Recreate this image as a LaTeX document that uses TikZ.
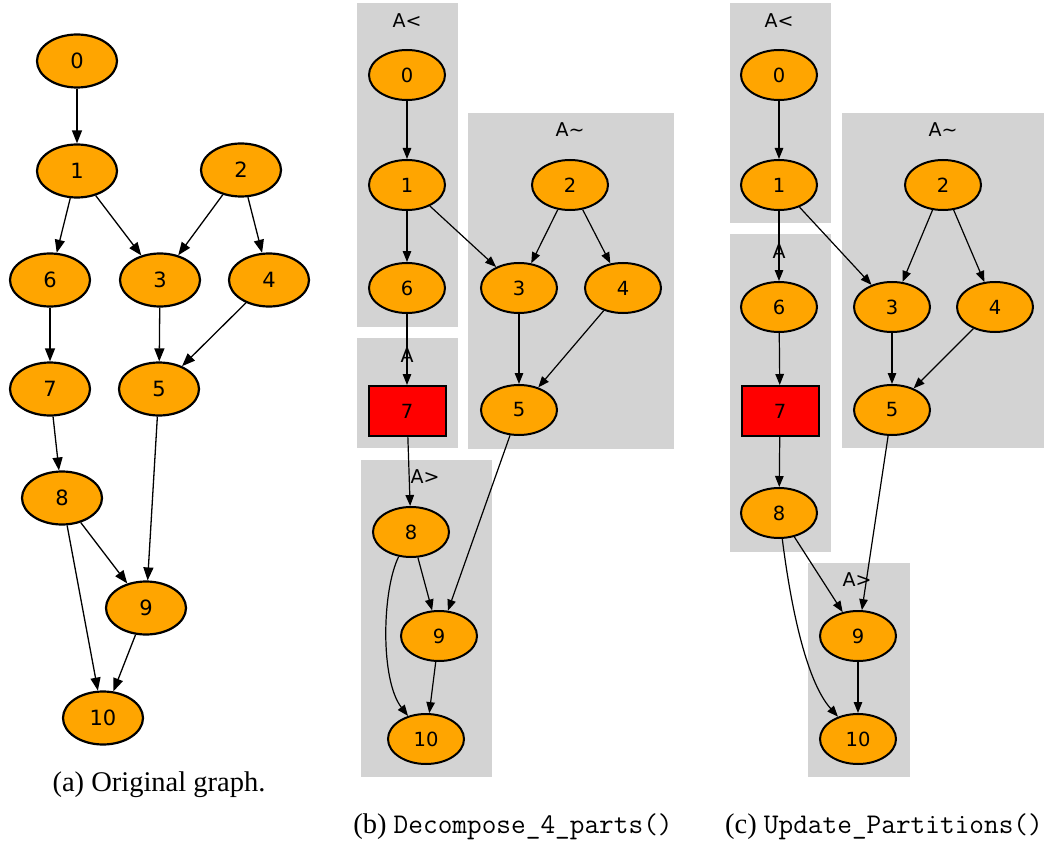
\documentclass[tikz,border=0pt]{standalone}
\usepackage{fontspec}
\setmainfont{Liberation Serif}
\newfontfamily\dv{DejaVu Sans}
\usetikzlibrary{shapes.geometric,arrows.meta}
\definecolor{gorange}{HTML}{FFA500}
\definecolor{cgray}{HTML}{D3D3D3}
\tikzset{
 nda/.style={ellipse, draw, line width=2.2pt, fill=gorange, minimum width=80pt, minimum height=53pt, inner sep=0pt, font=\dv\fontsize{21}{21}\selectfont},
 ndb/.style={ellipse, draw, line width=2pt, fill=gorange, minimum width=76pt, minimum height=50pt, inner sep=0pt, font=\dv\fontsize{19.5}{19.5}\selectfont},
 rbox/.style={rectangle, draw, line width=2pt, fill=red, minimum width=77pt, minimum height=50pt, inner sep=0pt, font=\dv\fontsize{19.5}{19.5}\selectfont},
 clab/.style={inner sep=0pt, font=\dv\fontsize{19}{19}\selectfont},
 capt/.style={inner sep=0pt, font=\fontsize{28.5}{30}\selectfont},
 ea/.style={-{Triangle[length=13pt,width=10pt]}, line width=1.3pt},
 eb/.style={-{Triangle[length=11pt,width=8.5pt]}, line width=1.2pt},
}
\begin{document}
\begin{tikzpicture}[x=1pt,y=-1pt]
\useasboundingbox (0,0) rectangle (1044,845);
% ---------- (a)
\node[nda] (a0) at (77,61) {0};
\node[nda] (a1) at (77,171) {1};
\node[nda] (a2) at (241,170) {2};
\node[nda] (a6) at (50,280) {6};
\node[nda] (a3) at (160,280) {3};
\node[nda] (a4) at (269,280) {4};
\node[nda] (a7) at (50,389) {7};
\node[nda] (a5) at (159,389) {5};
\node[nda] (a8) at (62,498) {8};
\node[nda] (a9) at (146,608) {9};
\node[nda] (a10) at (103,718) {10};
\draw[ea] (a0) -- (a1);
\draw[ea] (a1) -- (a6);
\draw[ea] (a1) -- (a3);
\draw[ea] (a2) -- (a3);
\draw[ea] (a2) -- (a4);
\draw[ea] (a3) -- (a5);
\draw[ea] (a4) -- (a5);
\draw[ea] (a6) -- (a7);
\draw[ea] (a7) -- (a8);
\draw[ea] (a5) -- (a9);
\draw[ea] (a8) -- (a9);
\draw[ea] (a8) -- (a10);
\draw[ea] (a9) -- (a10);
\node[capt] (capa) at (159,785) {(a) Original graph.};
% ---------- (b)
\fill[cgray] (357,3) rectangle (458,327);
\fill[cgray] (468,113) rectangle (674,449);
\fill[cgray] (357,338) rectangle (458,448);
\fill[cgray] (361,460) rectangle (492,777);
\node[clab] (bl1) at (407,21) {A<};
\node[clab] (bl2) at (570,130) {A\textasciitilde};
\node[clab] (bl3) at (407,356) {A};
\node[clab] (bl4) at (425,477) {A>};
\node[ndb] (b0) at (407,75) {0};
\node[ndb] (b1) at (407,185) {1};
\node[ndb] (b6) at (407,288) {6};
\node[ndb] (b2) at (570,185) {2};
\node[ndb] (b3) at (519,288) {3};
\node[ndb] (b4) at (623,288) {4};
\node[ndb] (b5) at (519,410) {5};
\node[rbox] (b7) at (407,411) {7};
\node[ndb] (b8) at (411,532) {8};
\node[ndb] (b9) at (439,636) {9};
\node[ndb] (b10) at (426,739) {10};
\draw[eb] (b0) -- (b1);
\draw[eb] (b1) -- (b6);
\draw[eb] (b1) -- (b3);
\draw[eb] (b2) -- (b3);
\draw[eb] (b2) -- (b4);
\draw[eb] (b3) -- (b5);
\draw[eb] (b4) -- (b5);
\draw[eb] (b6) -- (b7);
\draw[eb] (b7) -- (b8);
\draw[eb] (b5) -- (b9);
\draw[eb] (b8) -- (b9);
\draw[eb] (b8) .. controls (382,590) and (380,680) .. (b10);
\draw[eb] (b9) -- (b10);
\node[capt] (capb) at (513,827) {(b) \texttt{Decompose\_4\_parts()}};
% ---------- (c)
\fill[cgray] (730,3) rectangle (831,223);
\fill[cgray] (842,113) rectangle (1050,448);
\fill[cgray] (730,234) rectangle (831,552);
\fill[cgray] (808,563) rectangle (910,777);
\node[clab] (cl1) at (779,21) {A<};
\node[clab] (cl2) at (943,130) {A\textasciitilde};
\node[clab] (cl3) at (779,252) {A};
\node[clab] (cl4) at (857,580) {A>};
\node[ndb] (c0) at (779,75) {0};
\node[ndb] (c1) at (779,185) {1};
\node[ndb] (c6) at (779,307) {6};
\node[ndb] (c2) at (943,185) {2};
\node[ndb] (c3) at (892,307) {3};
\node[ndb] (c4) at (995,307) {4};
\node[ndb] (c5) at (892,410) {5};
\node[rbox] (c7) at (780,411) {7};
\node[ndb] (c8) at (779,513) {8};
\node[ndb] (c9) at (858,636) {9};
\node[ndb] (c10) at (858,739) {10};
\draw[eb] (c0) -- (c1);
\draw[eb] (c1) -- (c6);
\draw[eb] (c1) -- (c3);
\draw[eb] (c2) -- (c3);
\draw[eb] (c2) -- (c4);
\draw[eb] (c3) -- (c5);
\draw[eb] (c4) -- (c5);
\draw[eb] (c6) -- (c7);
\draw[eb] (c7) -- (c8);
\draw[eb] (c5) -- (c9);
\draw[eb] (c8) -- (c9);
\draw[eb] (c8) .. controls (790,600) and (805,680) .. (c10);
\draw[eb] (c9) -- (c10);
\node[capt, anchor=west] (capc) at (725,827) {(c) \texttt{Update\_Partitions()}};
\end{tikzpicture}
\end{document}
